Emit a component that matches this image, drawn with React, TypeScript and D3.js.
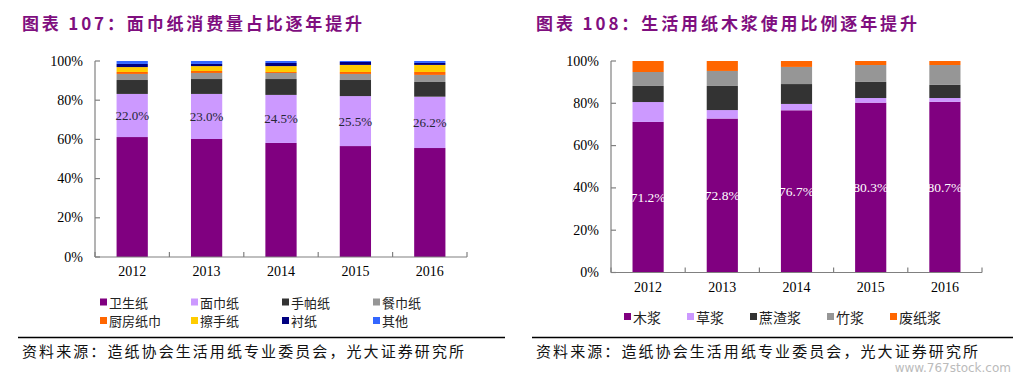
import React from 'react';
import * as d3 from 'd3';

const years = ['2012', '2013', '2014', '2015', '2016'];

// Chart 107
const tissueSeries = ['卫生纸', '面巾纸', '手帕纸', '餐巾纸', '厨房纸巾', '擦手纸', '衬纸', '其他'];
const toiletPaper = [61.2, 60.2, 58.2, 56.6, 55.6];
const facialTissue = [22.0, 23.0, 24.5, 25.5, 26.2];
const handkerchief = [7.1, 7.6, 8.1, 8.2, 7.5];
const napkin = [3.1, 3.1, 3.1, 3.1, 3.6];
const kitchenTowel = [1.0, 1.0, 0.5, 1.0, 1.5];
const handTowel = [2.5, 2.5, 3.0, 3.6, 3.6];
const linerPaper = [1.6, 1.1, 1.6, 1.5, 1.0];
const otherPaper = [1.5, 1.5, 1.0, 0.5, 1.0];
const tissueColors = ['#800080', '#CC99FF', '#333333', '#969696', '#FF6600', '#FFCC00', '#000080', '#3366FF'];

// Chart 108
const pulpSeries = ['木浆', '草浆', '蔗渣浆', '竹浆', '废纸浆'];
const woodPulp = [71.2, 72.8, 76.7, 80.3, 80.7];
const strawPulp = [9.4, 4.0, 3.0, 2.2, 1.8];
const bagassePulp = [7.6, 11.4, 9.4, 7.6, 6.2];
const bambooPulp = [6.6, 7.1, 8.1, 8.0, 9.4];
const wastePulp = [5.2, 4.7, 2.8, 1.9, 1.9];
const pulpColors = ['#800080', '#CC99FF', '#333333', '#969696', '#FF6600'];

const yTicks = [0, 20, 40, 60, 80, 100];

const SERIF = '"Liberation Serif", "Times New Roman", serif';
const CJK = '"Noto Sans CJK SC", "Noto Sans", sans-serif';

type ChartProps = {
  x0: number; x1: number; yTop: number; yBottom: number;
  names: string[]; values: number[][]; colors: string[];
  labelIndex: number; labelColor: string; labelSize: number; xLabelY: number;
};

function StackChart(p: ChartProps) {
  const rows = years.map((yr, i) => {
    const r: any = { year: yr };
    p.names.forEach((n, k) => { r[n] = p.values[k][i]; });
    return r;
  });
  const stacked = d3.stack<any>().keys(p.names)(rows);
  const x = d3.scaleBand<string>().domain(years).range([p.x0, p.x1]).paddingInner(0.58).paddingOuter(0.29);
  const y = d3.scaleLinear().domain([0, 100]).range([p.yBottom, p.yTop]);
  const step = x.step();
  const bounds = d3.range(0, years.length + 1).map(i => p.x0 + i * step);
  const axisColor = '#808080';
  return (
    <g>
      {stacked.map((s, k) => (
        <g key={k} fill={p.colors[k]}>
          {s.map((d, i) => (
            <rect key={i} x={x(years[i])} width={x.bandwidth()} y={y(d[1])} height={Math.max(0, y(d[0]) - y(d[1]))} />
          ))}
        </g>
      ))}
      {stacked[p.labelIndex].map((d, i) => (
        <text key={i} x={(x(years[i]) as number) + x.bandwidth() / 2} y={(y(d[0]) + y(d[1])) / 2}
          textAnchor="middle" dominantBaseline="central" fontFamily={SERIF} fontSize={p.labelSize} fill={p.labelColor}>
          {p.values[p.labelIndex][i].toFixed(1) + '%'}
        </text>
      ))}
      <line x1={p.x0} x2={p.x0} y1={p.yTop} y2={p.yBottom} stroke={axisColor} strokeWidth={1.2} />
      <line x1={p.x0} x2={p.x1} y1={p.yBottom} y2={p.yBottom} stroke={axisColor} strokeWidth={1.2} />
      {yTicks.map(t => (
        <g key={t}>
          <line x1={p.x0} x2={p.x0 + 5} y1={y(t)} y2={y(t)} stroke={axisColor} strokeWidth={1.2} />
          <text x={p.x0 - 12} y={y(t)} textAnchor="end" dominantBaseline="central" fontFamily={SERIF} fontSize={14} fill="#000">{t + '%'}</text>
        </g>
      ))}
      {bounds.map((bx, i) => (
        <line key={i} x1={bx} x2={bx} y1={p.yBottom} y2={p.yBottom - 5} stroke={axisColor} strokeWidth={1.2} />
      ))}
      {years.map(yr => (
        <text key={yr} x={(x(yr) as number) + x.bandwidth() / 2} y={p.xLabelY} textAnchor="middle" dominantBaseline="central"
          fontFamily={SERIF} fontSize={14} fill="#000">{yr}</text>
      ))}
    </g>
  );
}

function Legend({ names, colors, positions, fontSize }: { names: string[]; colors: string[]; positions: [number, number][]; fontSize: number }) {
  return (
    <g>
      {names.map((n, i) => (
        <g key={n}>
          <rect x={positions[i][0]} y={positions[i][1] - 3.5} width={7} height={7} fill={colors[i]} />
          <text x={positions[i][0] + 9} y={positions[i][1]} dominantBaseline="central" fontFamily={CJK} fontSize={fontSize} fill="#222">{n}</text>
        </g>
      ))}
    </g>
  );
}

export default function App() {
  const leftLegendPos: [number, number][] = tissueSeries.map((_, i) => [100 + (i % 4) * 91, 302 + Math.floor(i / 4) * 18.5]);
  const rightLegendPos: [number, number][] = [];
  let cx = 624;
  pulpSeries.forEach(n => { rightLegendPos.push([cx, 316.5]); cx += 35 + 14 * n.length; });
  const titleColor = '#7F0F7F';
  return (
    <svg width={1026} height={380} style={{ position: 'absolute', left: 0, top: 0, background: '#fff' }}>
      <rect x={0} y={0} width={1026} height={380} fill="#fff" />
      <text x={22} y={30} fontFamily={CJK} fontWeight="bold" fontSize={17} fill={titleColor} textLength={340} lengthAdjust="spacing">图表 107：面巾纸消费量占比逐年提升</text>
      <text x={536} y={30} fontFamily={CJK} fontWeight="bold" fontSize={17} fill={titleColor} textLength={381} lengthAdjust="spacing">图表 108：生活用纸木浆使用比例逐年提升</text>

      <StackChart x0={95} x1={467} yTop={61} yBottom={257}
        names={tissueSeries}
        values={[toiletPaper, facialTissue, handkerchief, napkin, kitchenTowel, handTowel, linerPaper, otherPaper]}
        colors={tissueColors} labelIndex={1} labelColor="#262636" labelSize={13} xLabelY={271} />
      <Legend names={tissueSeries} colors={tissueColors} positions={leftLegendPos} fontSize={13} />

      <StackChart x0={611} x1={982} yTop={61} yBottom={272.5}
        names={pulpSeries}
        values={[woodPulp, strawPulp, bagassePulp, bambooPulp, wastePulp]}
        colors={pulpColors} labelIndex={0} labelColor="#fff" labelSize={13.5} xLabelY={287} />
      <Legend names={pulpSeries} colors={pulpColors} positions={rightLegendPos} fontSize={14} />

      <line x1={18} x2={505} y1={337.5} y2={337.5} stroke="#000" strokeWidth={1.5} />
      <line x1={532} x2={1013} y1={337.5} y2={337.5} stroke="#000" strokeWidth={1.5} />
      <text x={22} y={357} fontFamily={CJK} fontSize={15} fill="#111" textLength={442} lengthAdjust="spacing">资料来源：造纸协会生活用纸专业委员会，光大证券研究所</text>
      <text x={536} y={357} fontFamily={CJK} fontSize={15} fill="#111" textLength={442} lengthAdjust="spacing">资料来源：造纸协会生活用纸专业委员会，光大证券研究所</text>
      <text x={1011} y={372} textAnchor="end" fontFamily='"DejaVu Sans", sans-serif' fontSize={12} fill="#bbb">www.767stock.com</text>
    </svg>
  );
}
